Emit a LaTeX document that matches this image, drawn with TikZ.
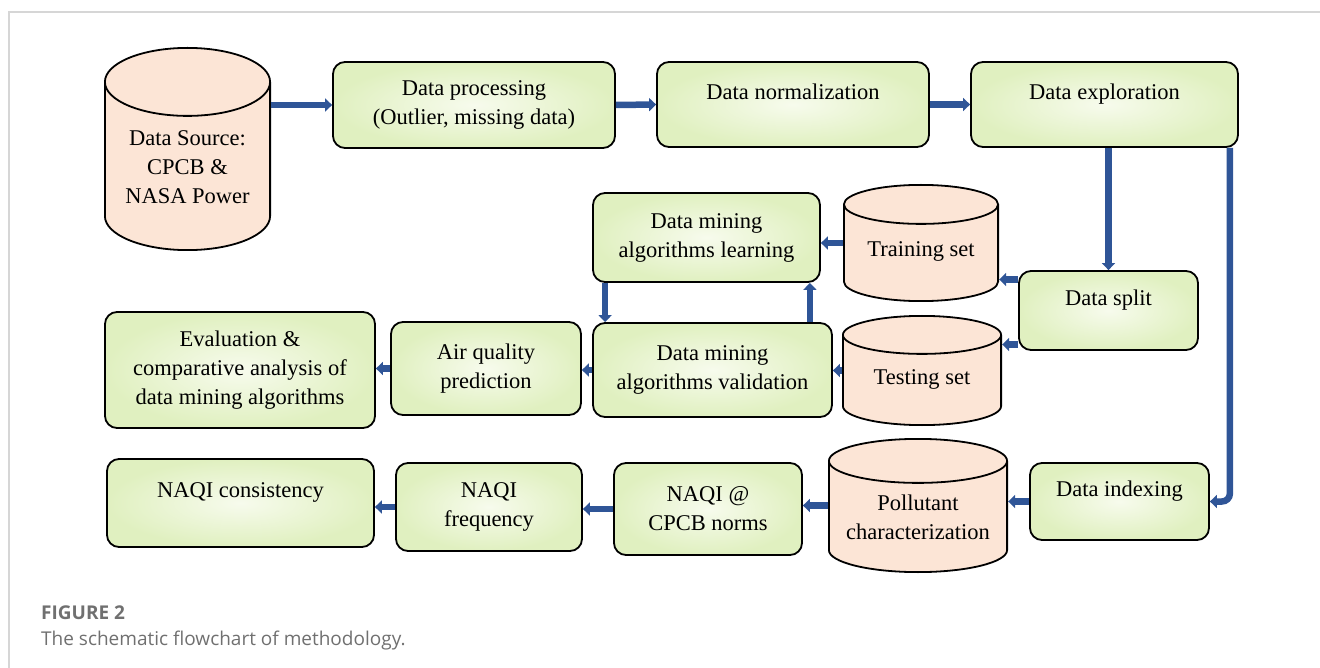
\documentclass[tikz,border=0pt]{standalone}
\usepackage{fontspec}
\setmainfont{Liberation Serif}
\newfontfamily\capfont{Open Sans}
\usetikzlibrary{arrows.meta,positioning,calc}

\definecolor{flowblue}{RGB}{47,85,151}
\definecolor{boxgreen}{RGB}{224,240,192}
\definecolor{boxlight}{RGB}{247,251,237}
\definecolor{storepeach}{RGB}{252,229,214}
\definecolor{framegray}{RGB}{214,214,214}
\definecolor{capgray}{RGB}{112,112,112}

\begin{document}
\begin{tikzpicture}[
  x=1pt, y=-1pt,
  stepbox/.style={draw, line width=1.8pt, rounded corners=12pt, inner color=boxlight, outer color=boxgreen, inner sep=0pt, align=center, font=\fontsize{22.5}{29}\selectfont},
  oneline/.style={text depth=26pt},
  lid/.store in=\lidry, lid=20,
  store/.style={fill=white, inner sep=0pt, align=center, font=\fontsize{22.5}{29}\selectfont,
    path picture={
      \draw[line width=1.8pt, fill=storepeach]
        let \p1=(path picture bounding box.south west), \p2=(path picture bounding box.north east),
            \n1={(\x2-\x1)/2-0.9pt} in
        (\x1+0.9pt,\y2-\lidry pt-0.9pt) -- (\x1+0.9pt,\y1+\lidry pt+0.9pt)
        arc[start angle=180, end angle=360, x radius={\n1*1pt}, y radius=\lidry pt]
        -- (\x2-0.9pt,\y2-\lidry pt-0.9pt)
        arc[start angle=0, end angle=180, x radius={\n1*1pt}, y radius=\lidry pt] -- cycle
        (\x1+0.9pt,\y2-\lidry pt-0.9pt)
        arc[start angle=180, end angle=360, x radius={\n1*1pt}, y radius=\lidry pt];
    }},
  flow/.style={-{Triangle[length=7pt,width=13pt]}, line width=6.5pt, flowblue},
  caption/.style={anchor=base west, inner sep=0pt, text=capgray, font=\capfont\fontsize{19}{23}\selectfont},
]
  \useasboundingbox (0,0) rectangle (1320,668);
  % Frame
  \draw[framegray, line width=1.5pt] (9,668) -- (9,12) -- (1320,12);

  % Top row
  \node[store, lid=34, text height=110pt, minimum width=167pt, minimum height=204pt] (src) at (187.5,149) {Data Source:\\CPCB \&\\NASA Power};
  \node[stepbox, minimum width=282pt, minimum height=86pt] (proc) at (474,105) {Data processing\\(Outlier, missing data)};
  \node[stepbox, oneline, minimum width=272pt, minimum height=85pt] (norm) at (793,104.5) {Data normalization};
  \node[stepbox, oneline, minimum width=267pt, minimum height=85pt] (expl) at (1104.5,104.5) {Data exploration};

  % Learning and validation
  \node[stepbox, minimum width=227pt, minimum height=89pt] (learn) at (706.5,237.5) {Data mining\\algorithms learning};
  \node[store, lid=19.5, text height=31pt, minimum width=156pt, minimum height=118pt] (train) at (921,243) {Training set};
  \node[stepbox, oneline, minimum width=179pt, minimum height=79pt] (split) at (1108.5,310.5) {Data split};
  \node[stepbox, minimum width=270pt, minimum height=116pt] (eval) at (240,370) {Evaluation \&\\comparative analysis of\\data mining algorithms};
  \node[stepbox, minimum width=190pt, minimum height=93pt] (air) at (486,368.5) {Air quality\\prediction};
  \node[stepbox, minimum width=239pt, minimum height=94pt] (valid) at (712.5,370) {Data mining\\algorithms validation};
  \node[store, lid=19, text height=32pt, minimum width=160pt, minimum height=111pt] (test) at (922,370.5) {Testing set};

  % Bottom row
  \node[stepbox, oneline, minimum width=267pt, minimum height=88pt] (cons) at (240.5,503) {NAQI consistency};
  \node[stepbox, minimum width=186pt, minimum height=88pt] (freq) at (489,507) {NAQI\\frequency};
  \node[stepbox, minimum width=188pt, minimum height=92pt] (norms) at (708,509) {NAQI @\\CPCB norms};
  \node[store, lid=22, text height=69pt, minimum width=180pt, minimum height=135pt] (poll) at (918,505.5) {Pollutant\\characterization};
  \node[stepbox, oneline, minimum width=179pt, minimum height=77pt] (index) at (1119.5,501.5) {Data indexing};

  % Caption
  \node[caption, font=\capfont\bfseries\fontsize{19}{23}\selectfont] (fig) at (41,619) {FIGURE 2};
  \node[caption] (figtext) at (41,645) {The schematic flowchart of methodology.};

  % Top row arrows
  \draw[flow] (src.east |- proc.west) -- (proc.west);
  \draw[flow] (proc.east) -- (norm.west);
  \draw[flow] (norm.east) -- (expl.west);
  \draw[flow] (split.north |- expl.south) -- (split.north);
  \draw[flow, rounded corners=8pt] ([xshift=-9pt]expl.south east) |- (index.east);

  % Split and learning loop
  \draw[flow] ([yshift=31pt]split.west) -- ([yshift=31pt]split.west -| train.east);
  \draw[flow] ([yshift=-34pt]split.west) -- ([yshift=-34pt]split.west -| test.east);
  \draw[flow] (train.west) -- (train.west -| learn.east);
  \draw[flow] ([xshift=13pt]learn.south west) -- ([xshift=13pt]learn.south west |- valid.north);
  \draw[flow] ([xshift=-23pt]valid.north east) -- ([xshift=-23pt]valid.north east |- learn.south);
  \foreach \a/\b in {test/valid, valid/air, air/eval}
    \draw[flow] (\a.west) -- (\a.west -| \b.east);

  % Bottom row arrows
  \foreach \a/\b in {index/poll, poll/norms, norms/freq, freq/cons}
    \draw[flow] (\a.west) -- (\a.west -| \b.east);

\end{tikzpicture}
\end{document}
